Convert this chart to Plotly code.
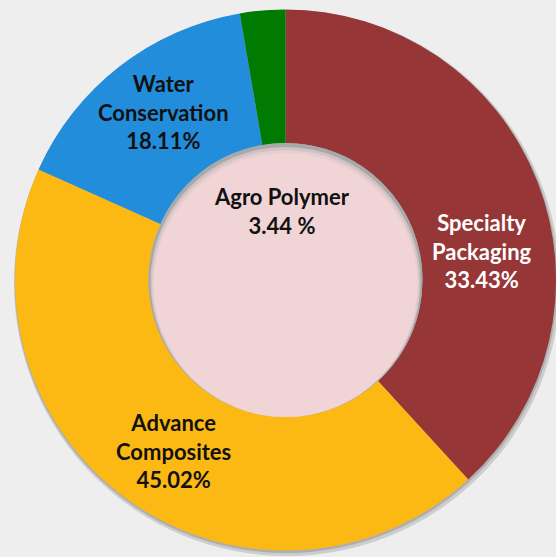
import plotly.graph_objects as go

# ---- data ----
categories = ["Specialty Packaging", "Advance Composites", "Water Conservation", "Agro Polymer"]
slice_share = [38.2, 43.5, 15.6, 2.7]          # visual share of each slice (%)
label_lines = [
    ["Specialty", "Packaging", "33.43%"],
    ["Advance", "Composites", "45.02%"],
    ["Water", "Conservation", "18.11%"],
    ["Agro Polymer", "3.44 %"],
]
colors = ["#963636", "#FDB913", "#228DDB", "#007A00"]
label_colors = ["#FFFFFF", "#111111", "#111111", "#111111"]
label_pos_px = [(482, 251), (173, 450.5), (163, 112), (282, 211)]

# ---- geometry ----
W, H = 556, 557
cx, cy, R = 285.5, 280.0, 270.5     # donut centre (px from top-left) and outer radius
r_in = 137.0
hole = r_in / R

fig = go.Figure()
fig.add_trace(go.Pie(
    labels=categories, values=slice_share, sort=False,
    direction="clockwise", rotation=0, hole=hole,
    marker=dict(colors=colors, line=dict(width=0)),
    textinfo="none", hoverinfo="label+percent", showlegend=False,
    domain=dict(x=[(cx - R) / W, (cx + R) / W], y=[(H - cy - R) / H, (H - cy + R) / H]),
))

def circ(x, y, r, color, layer, opacity=1.0):
    return dict(type="circle", xref="paper", yref="paper",
                x0=(x - r) / W, x1=(x + r) / W,
                y0=1 - (y + r) / H, y1=1 - (y - r) / H,
                fillcolor=color, line=dict(width=0), layer=layer, opacity=opacity)

shapes = [
    # soft outer shadow of the ring
    circ(cx + 1.5, cy + 3.0, R + 2.5, "#A5A5A5", "below", 0.45),
    circ(cx + 0.5, cy + 1.5, R + 1.0, "#8F8F8F", "below", 0.5),
    # centre disc with an inner shadow along its top edge
    circ(cx, cy, r_in, "#A9A9A9", "above", 1.0),
    circ(cx, cy + 2.0, r_in - 2.0, "#CFC3C4", "above", 1.0),
    circ(cx, cy + 3.5, r_in - 3.5, "#E6CDCF", "above", 1.0),
    circ(cx, cy + 5.0, r_in - 5.0, "#F0D4D6", "above", 1.0),
]

annotations = []
for lines, col, (px, py) in zip(label_lines, label_colors, label_pos_px):
    annotations.append(dict(
        text="<br>".join(lines), x=px / W, y=1 - py / H, xref="paper", yref="paper",
        xanchor="center", yanchor="middle", showarrow=False, align="center",
        font=dict(family="Lato", size=22, color=col, weight="bold"),
    ))

fig.update_layout(
    width=W, height=H, margin=dict(l=0, r=0, t=0, b=0), autosize=False,
    paper_bgcolor="#EEEEEE", plot_bgcolor="#EEEEEE",
    shapes=shapes, annotations=annotations,
)

fig.write_html(
    "out.html",
    config={"responsive": False, "displayModeBar": False},
    post_script="document.body.style.margin='0';document.body.style.overflow='hidden';"
                "document.documentElement.style.overflow='hidden';",
)
